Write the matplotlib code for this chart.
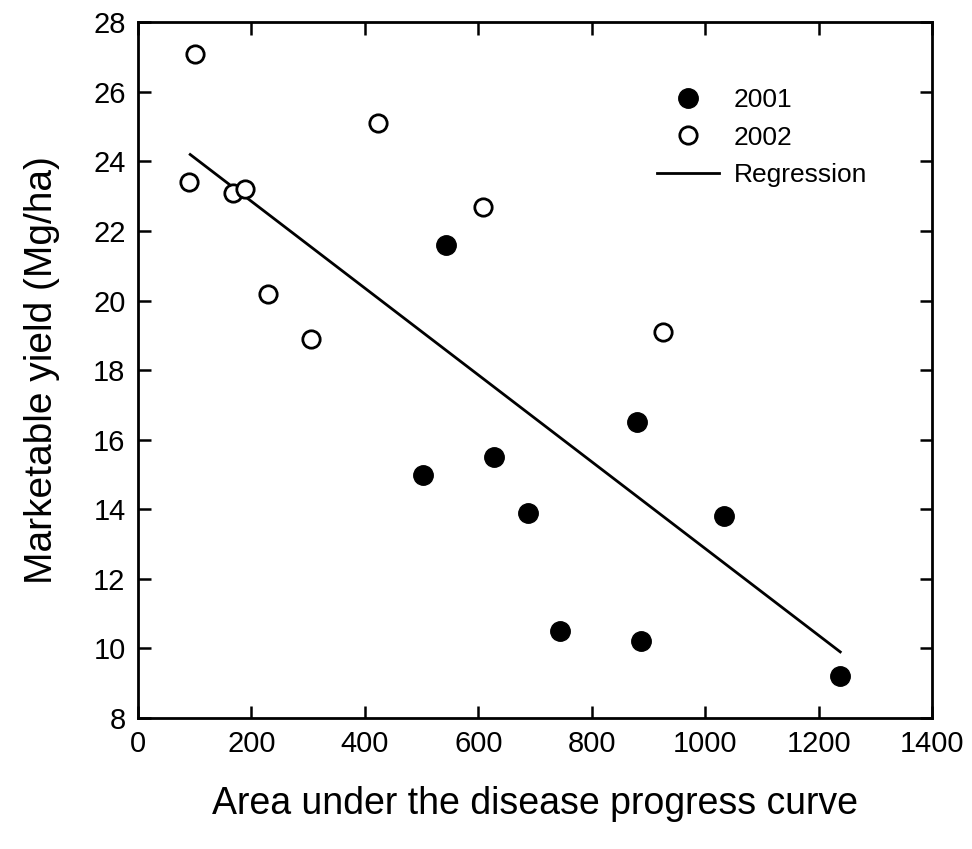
import matplotlib.pyplot as plt
import numpy as np

plt.rcParams['font.family'] = ['Liberation Sans', 'DejaVu Sans']

# 2001 season (filled)
auc_2001 = [543, 503, 628, 688, 880, 744, 887, 1033, 1237]
yield_2001 = [21.6, 15.0, 15.5, 13.9, 16.5, 10.5, 10.2, 13.8, 9.2]

# 2002 season (open)
auc_2002 = [100, 90, 168, 188, 230, 305, 423, 609, 926]
yield_2002 = [27.1, 23.4, 23.1, 23.2, 20.2, 18.9, 25.1, 22.7, 19.1]

# regression line end points
reg_x = [92, 1238]
reg_y = [24.2, 9.9]

x_ticks = [0, 200, 400, 600, 800, 1000, 1200, 1400]
y_ticks = [8, 10, 12, 14, 16, 18, 20, 22, 24, 26, 28]

fig = plt.figure(figsize=(9.72, 8.49), dpi=100)
ax = fig.add_axes([0.142, 0.1543, 0.817, 0.8194])

ax.plot(reg_x, reg_y, '-', color='black', lw=2.0, label='Regression', zorder=2)
ax.plot(auc_2001, yield_2001, 'o', color='black', ms=14, ls='none', label='2001', zorder=3)
ax.plot(auc_2002, yield_2002, 'o', mfc='white', mec='black', mew=2.0, ms=12.5, ls='none',
        label='2002', zorder=3)

ax.set_xlim(0, 1400)
ax.set_ylim(8, 28)
ax.set_xticks(x_ticks)
ax.set_yticks(y_ticks)
ax.tick_params(direction='in', length=9, width=1.8, labelsize=21, top=True, right=True, pad=9)
for sp in ax.spines.values():
    sp.set_linewidth(2.0)

ax.set_xlabel('Area under the disease progress curve', fontsize=27, labelpad=20)
ax.set_ylabel('Marketable yield (Mg/ha)', fontsize=28, labelpad=24)

handles, labels = ax.get_legend_handles_labels()
order = [1, 2, 0]
ax.legend([handles[i] for i in order], [labels[i] for i in order], frameon=False,
          fontsize=19, loc='upper left', bbox_to_anchor=(0.654, 0.905),
          borderpad=0, borderaxespad=0,
          handlelength=2.35, handletextpad=0.55, labelspacing=0.5)

fig.savefig('out.png', dpi=100)
